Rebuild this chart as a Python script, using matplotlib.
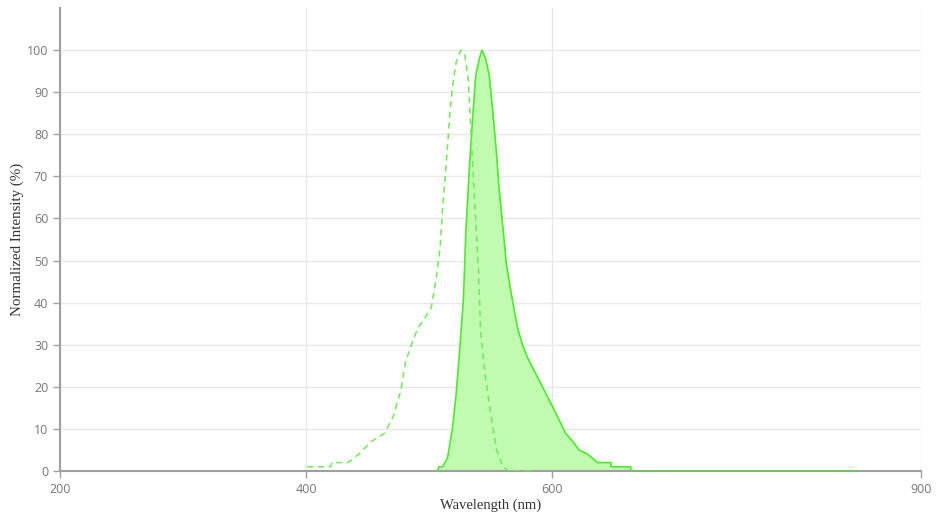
import matplotlib
matplotlib.use("Agg")
import matplotlib.pyplot as plt

# excitation spectrum (dashed)
ex_wl = [401, 420, 421, 424, 434, 443, 453, 464, 471, 477, 481, 487, 491, 496, 502,
         506, 509, 511, 514, 517, 519, 522, 526, 529, 532, 534, 537, 540, 542, 546,
         551, 555, 560, 565, 583]
ex_val = [1, 1, 2, 2, 2, 4, 7, 9, 13, 19, 26, 31, 34, 36, 39,
          46, 53, 62, 73, 85, 91, 97, 100, 99, 93, 81, 65, 49, 33, 22,
          12, 5, 1, 0, 0]

# emission spectrum (filled)
em_wl = [507, 508, 511, 515, 519, 522, 525, 528, 530, 533, 536, 538, 541, 543, 546,
         549, 552, 555, 557, 560, 563, 567, 570, 572, 576, 580, 587, 594, 601,
         606, 611, 617, 622, 629, 637, 648, 648, 664, 664, 848]
em_val = [0, 1, 1, 3, 10, 18, 29, 41, 57, 73, 86, 94, 98, 100, 98,
          94, 85, 75, 67, 58, 49, 42, 37, 34, 30, 27, 23, 19, 15,
          12, 9, 7, 5, 4, 2, 2, 1, 1, 0, 0]

line_green = "#4aea2a"
fill_green = "#c0fbb0"

plt.rcParams["font.family"] = ["Open Sans", "DejaVu Sans"]

fig = plt.figure(figsize=(9.41, 5.18), dpi=100)
ax = fig.add_axes([60 / 941, 47 / 518, 861 / 941, 463 / 518])

ax.fill_between(em_wl, em_val, color=fill_green, lw=0)
ax.plot(em_wl, em_val, color=line_green, lw=1.2, zorder=3)
ax.plot(ex_wl, ex_val, color="#6cee50", lw=1.1, ls=(0, (4, 3)), zorder=3)

ax.set_xlim(200, 900)
ax.set_ylim(0, 110)
ax.set_xticks([200, 400, 600, 900])
ax.set_yticks(range(0, 101, 10))
ax.grid(True, color="#e8e8e8", lw=1)
ax.set_axisbelow(True)

for s in ["top", "right"]:
    ax.spines[s].set_visible(False)
for s in ["left", "bottom"]:
    ax.spines[s].set_color("#a0a0a0")
    ax.spines[s].set_linewidth(1.5)

ax.tick_params(colors="#a0a0a0", labelcolor="#777777", labelsize=9, length=5, width=1)

ax.set_xlabel("Wavelength (nm)", family="Liberation Serif", fontsize=10.5,
              color="#333333", labelpad=2)
ax.set_ylabel("Normalized Intensity (%)", family="Liberation Serif", fontsize=10.8,
              color="#333333", labelpad=2)

fig.savefig("out.png", dpi=100)
